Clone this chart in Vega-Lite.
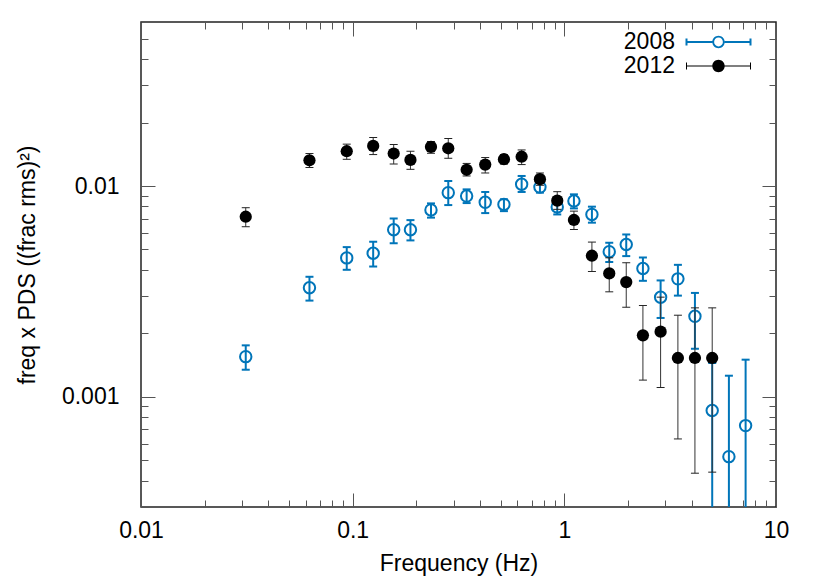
{
  "$schema": "https://vega.github.io/schema/vega-lite/v6.json",
  "width": 635,
  "height": 485,
  "autosize": {"type": "none"},
  "padding": {"left": 141, "top": 22, "right": 54, "bottom": 74},
  "background": "white",
  "config": {
    "view": {"stroke": "#222", "strokeWidth": 1.5},
    "font": "Liberation Sans",
    "axis": {
      "grid": false, "domain": false,
      "labelFont": "Liberation Sans", "titleFont": "Liberation Sans",
      "labelFontSize": 23, "titleFontSize": 23, "titleFontWeight": "normal",
      "labelColor": "black", "titleColor": "black",
      "tickColor": "#555", "tickWidth": 1
    }
  },
  "data": {"values": [
    {"s": "2008", "f": 0.03125, "p": 0.00155, "lo": 0.001344, "hi": 0.001754},
    {"s": "2008", "f": 0.0625, "p": 0.00329, "lo": 0.00286, "hi": 0.00371},
    {"s": "2008", "f": 0.09375, "p": 0.00456, "lo": 0.004004, "hi": 0.00513},
    {"s": "2008", "f": 0.125, "p": 0.0048, "lo": 0.00415, "hi": 0.00544},
    {"s": "2008", "f": 0.15625, "p": 0.0062, "lo": 0.005358, "hi": 0.00702},
    {"s": "2008", "f": 0.1875, "p": 0.0062, "lo": 0.00552, "hi": 0.00689},
    {"s": "2008", "f": 0.2344, "p": 0.0077, "lo": 0.00708, "hi": 0.00827},
    {"s": "2008", "f": 0.2829, "p": 0.0093, "lo": 0.00812, "hi": 0.01056},
    {"s": "2008", "f": 0.3455, "p": 0.00896, "lo": 0.0083, "hi": 0.00964},
    {"s": "2008", "f": 0.4229, "p": 0.00837, "lo": 0.00744, "hi": 0.00937},
    {"s": "2008", "f": 0.5184, "p": 0.00818, "lo": 0.0076, "hi": 0.00865},
    {"s": "2008", "f": 0.6285, "p": 0.01019, "lo": 0.00937, "hi": 0.01116},
    {"s": "2008", "f": 0.7669, "p": 0.00988, "lo": 0.0093, "hi": 0.01068},
    {"s": "2008", "f": 0.9258, "p": 0.00796, "lo": 0.00733, "hi": 0.00865},
    {"s": "2008", "f": 1.11, "p": 0.00849, "lo": 0.00783, "hi": 0.00913},
    {"s": "2008", "f": 1.35, "p": 0.00733, "lo": 0.0067, "hi": 0.00798},
    {"s": "2008", "f": 1.63, "p": 0.00488, "lo": 0.00436, "hi": 0.00538},
    {"s": "2008", "f": 1.961, "p": 0.00528, "lo": 0.00465, "hi": 0.00589},
    {"s": "2008", "f": 2.351, "p": 0.00406, "lo": 0.00355, "hi": 0.00458},
    {"s": "2008", "f": 2.85, "p": 0.002965, "lo": 0.002366, "hi": 0.003565},
    {"s": "2008", "f": 3.44, "p": 0.003627, "lo": 0.00302, "hi": 0.004227},
    {"s": "2008", "f": 4.14, "p": 0.002409, "lo": 0.00169, "hi": 0.00311},
    {"s": "2008", "f": 4.996, "p": 0.000861, "lo": 0.000276, "hi": 0.001446},
    {"s": "2008", "f": 5.991, "p": 0.00052, "lo": 0.0002, "hi": 0.001259},
    {"s": "2008", "f": 7.185, "p": 0.00073, "lo": 0.0002, "hi": 0.0015},
    {"s": "2012", "f": 0.03125, "p": 0.00715, "lo": 0.00641, "hi": 0.00789},
    {"s": "2012", "f": 0.0625, "p": 0.01325, "lo": 0.01224, "hi": 0.01426},
    {"s": "2012", "f": 0.09375, "p": 0.01462, "lo": 0.01339, "hi": 0.0158},
    {"s": "2012", "f": 0.125, "p": 0.0155, "lo": 0.0141, "hi": 0.01699},
    {"s": "2012", "f": 0.15625, "p": 0.01426, "lo": 0.01273, "hi": 0.01575},
    {"s": "2012", "f": 0.1875, "p": 0.0133, "lo": 0.012, "hi": 0.01462},
    {"s": "2012", "f": 0.2344, "p": 0.01533, "lo": 0.0143, "hi": 0.01626},
    {"s": "2012", "f": 0.2829, "p": 0.0151, "lo": 0.01354, "hi": 0.0168},
    {"s": "2012", "f": 0.3455, "p": 0.01194, "lo": 0.01116, "hi": 0.0128},
    {"s": "2012", "f": 0.4229, "p": 0.01264, "lo": 0.01153, "hi": 0.01365},
    {"s": "2012", "f": 0.5184, "p": 0.0134, "lo": 0.0127, "hi": 0.0141},
    {"s": "2012", "f": 0.6285, "p": 0.01377, "lo": 0.01264, "hi": 0.01483},
    {"s": "2012", "f": 0.7669, "p": 0.01078, "lo": 0.01008, "hi": 0.01153},
    {"s": "2012", "f": 0.9258, "p": 0.00852, "lo": 0.00775, "hi": 0.0094},
    {"s": "2012", "f": 1.11, "p": 0.0069, "lo": 0.00622, "hi": 0.0076},
    {"s": "2012", "f": 1.35, "p": 0.00467, "lo": 0.003929, "hi": 0.00542},
    {"s": "2012", "f": 1.63, "p": 0.00385, "lo": 0.003148, "hi": 0.004565},
    {"s": "2012", "f": 1.961, "p": 0.0035, "lo": 0.00266, "hi": 0.004325},
    {"s": "2012", "f": 2.351, "p": 0.001957, "lo": 0.0012, "hi": 0.00271},
    {"s": "2012", "f": 2.85, "p": 0.002037, "lo": 0.001107, "hi": 0.00297},
    {"s": "2012", "f": 3.44, "p": 0.001528, "lo": 0.000631, "hi": 0.002438},
    {"s": "2012", "f": 4.14, "p": 0.001528, "lo": 0.000434, "hi": 0.002642},
    {"s": "2012", "f": 4.996, "p": 0.001528, "lo": 0.000439, "hi": 0.002642}
  ]},
  "resolve": {"axis": {"x": "independent", "y": "independent"}},
  "layer": [
    {
      "transform": [{"filter": "datum.s == '2008'"}],
      "mark": {"type": "rule", "color": "#0075b9", "strokeWidth": 2, "clip": true},
      "encoding": {
        "x": {"field": "f", "type": "quantitative", "scale": {"type": "log", "domain": [0.01, 10], "nice": false},
              "axis": {"orient": "bottom", "values": [0.01, 0.1, 1, 10], "ticks": false, "labelPadding": 12, "labelExpr": "'' + datum.value", "labelFlush": false, "labelOverlap": false, "title": "Frequency (Hz)", "titlePadding": 10}},
        "y": {"field": "lo", "type": "quantitative", "scale": {"type": "log", "domain": [0.0003, 0.06], "nice": false},
              "axis": {"orient": "left", "values": [0.001, 0.01], "ticks": false, "labelPadding": 22, "labelExpr": "'' + datum.value", "labelFlush": false, "labelOverlap": false, "title": "freq x PDS ((frac rms)²)", "titlePadding": 22}},
        "y2": {"field": "hi"}
      }
    },
    {
      "transform": [{"filter": "datum.s == '2008'"}],
      "mark": {"type": "tick", "orient": "horizontal", "color": "#0075b9", "thickness": 2, "size": 8, "clip": true, "opacity": 1},
      "encoding": {
        "x": {"field": "f", "type": "quantitative", "scale": {"type": "log", "domain": [0.01, 10], "nice": false},
              "axis": {"orient": "bottom", "values": [0.01, 0.1, 1, 10], "labels": false, "tickSize": -14, "title": null}},
        "y": {"field": "lo", "type": "quantitative", "scale": {"type": "log", "domain": [0.0003, 0.06], "nice": false},
              "axis": {"orient": "left", "values": [0.001, 0.01], "labels": false, "tickSize": -14, "title": null}}
      }
    },
    {
      "transform": [{"filter": "datum.s == '2008'"}],
      "mark": {"type": "tick", "orient": "horizontal", "color": "#0075b9", "thickness": 2, "size": 8, "clip": true, "opacity": 1},
      "encoding": {
        "x": {"field": "f", "type": "quantitative", "scale": {"type": "log", "domain": [0.01, 10], "nice": false},
              "axis": {"orient": "bottom", "values": [0.02, 0.03, 0.04, 0.05, 0.06, 0.07, 0.08, 0.09, 0.2, 0.3, 0.4, 0.5, 0.6, 0.7, 0.8, 0.9, 2, 3, 4, 5, 6, 7, 8, 9], "labels": false, "tickSize": -7, "title": null}},
        "y": {"field": "hi", "type": "quantitative", "scale": {"type": "log", "domain": [0.0003, 0.06], "nice": false},
              "axis": {"orient": "left", "values": [0.0003, 0.0004, 0.0005, 0.0006, 0.0007, 0.0008, 0.0009, 0.002, 0.003, 0.004, 0.005, 0.006, 0.007, 0.008, 0.009, 0.02, 0.03, 0.04, 0.05], "labels": false, "tickSize": -7, "title": null}}
      }
    },
    {
      "transform": [{"filter": "datum.s == '2008'"}],
      "mark": {"type": "point", "shape": "circle", "filled": false, "color": "#0075b9", "strokeWidth": 2, "size": 130, "opacity": 1, "clip": true},
      "encoding": {
        "x": {"field": "f", "type": "quantitative", "scale": {"type": "log", "domain": [0.01, 10], "nice": false}, "axis": null},
        "y": {"field": "p", "type": "quantitative", "scale": {"type": "log", "domain": [0.0003, 0.06], "nice": false}, "axis": null}
      }
    },
    {
      "transform": [{"filter": "datum.s == '2012'"}],
      "mark": {"type": "rule", "color": "#333", "strokeWidth": 1, "clip": true},
      "encoding": {
        "x": {"field": "f", "type": "quantitative", "scale": {"type": "log", "domain": [0.01, 10], "nice": false},
              "axis": {"orient": "top", "values": [0.01, 0.1, 1, 10], "labels": false, "tickSize": -14, "title": null}},
        "y": {"field": "lo", "type": "quantitative", "scale": {"type": "log", "domain": [0.0003, 0.06], "nice": false},
              "axis": {"orient": "right", "values": [0.001, 0.01], "labels": false, "tickSize": -14, "title": null}},
        "y2": {"field": "hi"}
      }
    },
    {
      "transform": [{"filter": "datum.s == '2012'"}],
      "mark": {"type": "tick", "orient": "horizontal", "color": "#222", "thickness": 1, "size": 8, "clip": true, "opacity": 1},
      "encoding": {
        "x": {"field": "f", "type": "quantitative", "scale": {"type": "log", "domain": [0.01, 10], "nice": false},
              "axis": {"orient": "top", "values": [0.02, 0.03, 0.04, 0.05, 0.06, 0.07, 0.08, 0.09, 0.2, 0.3, 0.4, 0.5, 0.6, 0.7, 0.8, 0.9, 2, 3, 4, 5, 6, 7, 8, 9], "labels": false, "tickSize": -7, "title": null}},
        "y": {"field": "lo", "type": "quantitative", "scale": {"type": "log", "domain": [0.0003, 0.06], "nice": false},
              "axis": {"orient": "right", "values": [0.0003, 0.0004, 0.0005, 0.0006, 0.0007, 0.0008, 0.0009, 0.002, 0.003, 0.004, 0.005, 0.006, 0.007, 0.008, 0.009, 0.02, 0.03, 0.04, 0.05], "labels": false, "tickSize": -7, "title": null}}
      }
    },
    {
      "transform": [{"filter": "datum.s == '2012'"}],
      "mark": {"type": "tick", "orient": "horizontal", "color": "#222", "thickness": 1, "size": 8, "clip": true, "opacity": 1},
      "encoding": {
        "x": {"field": "f", "type": "quantitative", "scale": {"type": "log", "domain": [0.01, 10], "nice": false}, "axis": null},
        "y": {"field": "hi", "type": "quantitative", "scale": {"type": "log", "domain": [0.0003, 0.06], "nice": false}, "axis": null}
      }
    },
    {
      "transform": [{"filter": "datum.s == '2012'"}],
      "mark": {"type": "point", "shape": "circle", "filled": true, "color": "black", "size": 150, "opacity": 1, "clip": true},
      "encoding": {
        "x": {"field": "f", "type": "quantitative", "scale": {"type": "log", "domain": [0.01, 10], "nice": false}, "axis": null},
        "y": {"field": "p", "type": "quantitative", "scale": {"type": "log", "domain": [0.0003, 0.06], "nice": false}, "axis": null}
      }
    },
    {
      "transform": [{"filter": "datum.f < 0"}],
      "mark": {"type": "point", "filled": true, "opacity": 1},
      "encoding": {
        "x": {"field": "f", "type": "quantitative", "scale": {"type": "log", "domain": [0.01, 10], "nice": false}, "axis": null},
        "y": {"field": "p", "type": "quantitative", "scale": {"type": "log", "domain": [0.0003, 0.06], "nice": false}, "axis": null},
        "color": {"field": "s", "type": "nominal", "scale": {"domain": ["2008", "2012"], "range": ["#0075b9", "black"]},
                  "legend": {"title": null, "orient": "none", "legendX": 566, "legendY": 8.5, "padding": 0, "rowPadding": 0, "symbolSize": 400, "symbolStrokeWidth": 0, "symbolOpacity": 1, "labelFontSize": 23, "labelColor": "black", "labelAlign": "right", "labelOffset": -55}},
        "shape": {"field": "s", "type": "nominal",
                  "scale": {"domain": ["2008", "2012"], "range": ["M-3.2,-0.1H-0.62V0.1H-3.2ZM0.62,-0.1H3.2V0.1H0.62ZM-3.3,-0.35H-3.1V0.35H-3.3ZM3.1,-0.35H3.3V0.35H3.1ZM0.62,0A0.62,0.62,0,1,1,-0.62,0A0.62,0.62,0,1,1,0.62,0ZM0.44,0A0.44,0.44,0,1,0,-0.44,0A0.44,0.44,0,1,0,0.44,0Z", "M-3.2,-0.05H3.2V0.05H-3.2ZM-3.25,-0.35H-3.15V0.35H-3.25ZM3.15,-0.35H3.25V0.35H3.15ZM0.62,0A0.62,0.62,0,1,1,-0.62,0A0.62,0.62,0,1,1,0.62,0Z"]},
                  "legend": {"title": null, "orient": "none", "legendX": 566, "legendY": 8.5, "padding": 0, "rowPadding": 0, "symbolSize": 400, "symbolStrokeWidth": 0, "symbolOpacity": 1, "labelFontSize": 23, "labelColor": "black", "labelAlign": "right", "labelOffset": -55}}
      }
    }
  ]
}
